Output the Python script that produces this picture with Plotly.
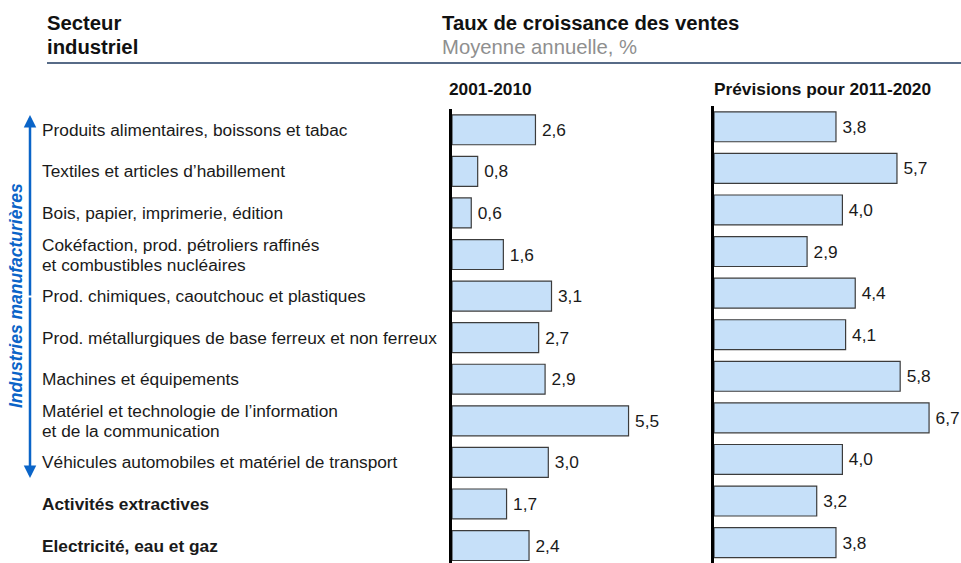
import plotly.graph_objects as go

categories = [
    "Produits alimentaires, boissons et tabac",
    "Textiles et articles d’habillement",
    "Bois, papier, imprimerie, édition",
    "Cokéfaction, prod. pétroliers raffinés<br>et combustibles nucléaires",
    "Prod. chimiques, caoutchouc et plastiques",
    "Prod. métallurgiques de base ferreux et non ferreux",
    "Machines et équipements",
    "Matériel et technologie de l’information<br>et de la communication",
    "Véhicules automobiles et matériel de transport",
    "<b>Activités extractives</b>",
    "<b>Electricité, eau et gaz</b>",
]
growth_2001_2010 = [2.6, 0.8, 0.6, 1.6, 3.1, 2.7, 2.9, 5.5, 3.0, 1.7, 2.4]
forecast_2011_2020 = [3.8, 5.7, 4.0, 2.9, 4.4, 4.1, 5.8, 6.7, 4.0, 3.2, 3.8]
panel_titles = ["2001-2010", "Prévisions pour 2011-2020"]

W, H = 961, 563
FONT = "Arial, Liberation Sans, sans-serif"
BAR_FILL = "#C6E0F9"
BAR_LINE = "#3c3c3c"
BLUE = "#0A64C8"
LBL = 17.3
HDR = 20.3


def px(x):
    return x / W


def py(y):
    return 1 - y / H


def fmt(v):
    return "\u2009" + f"{v:.1f}".replace(".", ",")


pos = list(range(len(categories)))

fig = go.Figure()
fig.add_trace(go.Bar(
    x=growth_2001_2010, y=pos, orientation="h", width=0.72,
    marker=dict(color=BAR_FILL, line=dict(color=BAR_LINE, width=1.2)),
    text=[fmt(v) for v in growth_2001_2010], textposition="outside",
    textfont=dict(size=LBL, color="#1a1a1a", family=FONT),
    constraintext="none", cliponaxis=False,
    xaxis="x", yaxis="y", hoverinfo="skip", showlegend=False,
))
fig.add_trace(go.Bar(
    x=forecast_2011_2020, y=pos, orientation="h", width=0.72,
    marker=dict(color=BAR_FILL, line=dict(color=BAR_LINE, width=1.2)),
    text=[fmt(v) for v in forecast_2011_2020], textposition="outside",
    textfont=dict(size=LBL, color="#1a1a1a", family=FONT),
    constraintext="none", cliponaxis=False,
    xaxis="x2", yaxis="y2", hoverinfo="skip", showlegend=False,
))

scale = 32.1  # px per unit
xl0 = 452
xr0 = 714
fig.update_layout(
    width=W, height=H,
    margin=dict(l=0, r=0, t=0, b=0),
    paper_bgcolor="white", plot_bgcolor="white",
    font=dict(family=FONT, color="#1a1a1a"),
    xaxis=dict(domain=[px(xl0), px(xl0 + 7 * scale)], range=[0, 7],
               visible=False, fixedrange=True),
    yaxis=dict(domain=[0, py(109)], range=[10.42, -0.5],
               showline=True, linecolor="black", linewidth=3,
               showticklabels=False, ticks="", showgrid=False, zeroline=False,
               anchor="x", fixedrange=True),
    xaxis2=dict(domain=[px(xr0), px(xr0 + 7.5 * scale)], range=[0, 7.5],
                visible=False, fixedrange=True, anchor="y2"),
    yaxis2=dict(domain=[0, py(106)], range=[10.49, -0.5],
                showline=True, linecolor="black", linewidth=3,
                showticklabels=False, ticks="", showgrid=False, zeroline=False,
                anchor="x2", fixedrange=True),
    bargap=0.3,
)

ann = []
for i, c in enumerate(categories):
    lines = c.split("<br>")
    if len(lines) == 1:
        offsets = [0.0]
    else:
        offsets = [-0.23, 0.25]
    for line, off in zip(lines, offsets):
        ann.append(dict(x=px(40), xref="paper", y=i + off, yref="y", text=line,
                        xanchor="left", yanchor="middle", align="left",
                        showarrow=False, font=dict(size=LBL, color="#1a1a1a")))
n_cat_ann = len(ann)

# headers
ann += [
    dict(x=px(45), y=py(23), text="<b>Secteur</b>", font=dict(size=HDR, color="#111")),
    dict(x=px(45), y=py(47), text="<b>industriel</b>", font=dict(size=HDR, color="#111")),
    dict(x=px(440), y=py(23), text="<b>Taux de croissance des ventes</b>", font=dict(size=HDR, color="#111")),
    dict(x=px(440), y=py(47), text="Moyenne annuelle, %", font=dict(size=HDR, color="#8f8f8f")),
    dict(x=px(447), y=py(89), text=f"<b>{panel_titles[0]}</b>", font=dict(size=LBL, color="#111")),
    dict(x=px(712), y=py(89), text=f"<b>{panel_titles[1]}</b>", font=dict(size=LBL, color="#111")),
]
for a in ann[n_cat_ann:]:
    a.update(xref="paper", yref="paper", xanchor="left", yanchor="middle", showarrow=False)

# vertical double arrow + rotated label
ann += [
    dict(x=px(30), y=py(115), xref="paper", yref="paper", ax=0, ay=182,
         text="", showarrow=True, arrowhead=2, arrowsize=1, arrowwidth=2.5,
         arrowcolor=BLUE, standoff=0),
    dict(x=px(30), y=py(478), xref="paper", yref="paper", ax=0, ay=-182,
         text="", showarrow=True, arrowhead=2, arrowsize=1, arrowwidth=2.5,
         arrowcolor=BLUE, standoff=0),
    dict(x=px(16), y=py(296), xref="paper", yref="paper",
         text="<b><i>Industries manufacturières</i></b>", textangle=-90,
         showarrow=False, xanchor="center", yanchor="middle",
         font=dict(size=17.5, color=BLUE)),
]
fig.update_layout(annotations=ann)

fig.add_shape(type="line", xref="paper", yref="paper",
              x0=px(47), x1=1, y0=py(63), y1=py(63),
              line=dict(color="#1F3A5F", width=1.5))

fig.write_html("out.html", config={"displayModeBar": False, "staticPlot": True})

# remove the default 8px body margin so the figure fills the window exactly
with open("out.html", "r", encoding="utf-8") as f:
    html = f.read()
html = html.replace("<body>", '<body style="margin:0;padding:0;overflow:hidden">', 1)
with open("out.html", "w", encoding="utf-8") as f:
    f.write(html)
